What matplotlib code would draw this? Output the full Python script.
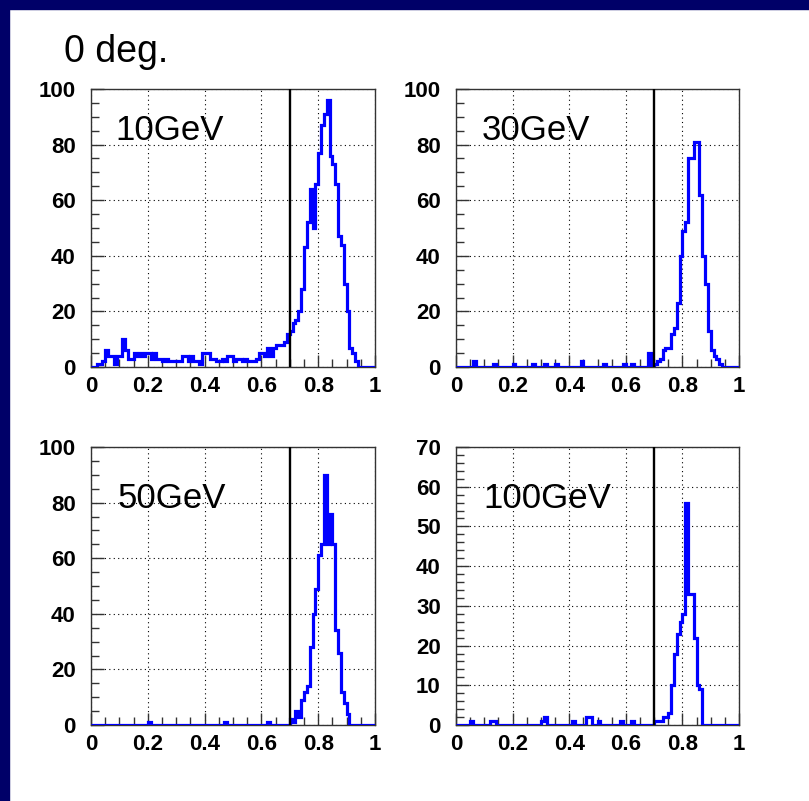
' Four energy panels of a ROOT-style histogram, 0 deg. '

import numpy as np
import matplotlib
matplotlib.use('Agg')
import matplotlib.pyplot as plt
from matplotlib.patches import Rectangle
from matplotlib.ticker import MultipleLocator, FormatStrFormatter

plt.rcParams['font.family'] = ['Liberation Sans', 'DejaVu Sans']

W, H = 809, 801
NAVY = '#000068'
CUT = 0.7

EDGES = np.linspace(0, 1, 101)

# counts per 0.01 bin
COUNTS_10 = [
    0, 0, 1, 1, 2, 6, 4, 4, 1, 4,
    4, 10, 6, 3, 3, 5, 4, 5, 4, 5,
    5, 3, 5, 3, 3, 2, 3, 2, 2, 2,
    2, 2, 4, 4, 2, 4, 2, 2, 1, 5,
    5, 5, 3, 3, 2, 2, 3, 2, 4, 4,
    2, 3, 3, 2, 3, 2, 2, 2, 3, 5,
    5, 4, 7, 4, 7, 8, 8, 8, 9, 12,
    13, 16, 17, 20, 28, 43, 52, 64, 50, 66,
    77, 87, 91, 96, 76, 73, 66, 47, 44, 30,
    20, 7, 5, 2, 0, 0, 0, 0, 0, 0,
]
COUNTS_30 = [
    0, 0, 0, 0, 0, 0, 2, 0, 0, 0,
    0, 0, 0, 1, 0, 0, 0, 0, 0, 0,
    1, 0, 0, 0, 0, 0, 0, 1, 0, 0,
    0, 1, 0, 0, 0, 1, 0, 0, 0, 0,
    0, 0, 0, 0, 2, 0, 0, 0, 0, 0,
    0, 0, 1, 0, 0, 0, 0, 0, 0, 1,
    0, 0, 1, 0, 0, 0, 0, 0, 5, 0,
    1, 2, 3, 6, 7, 7, 12, 14, 23, 40,
    49, 52, 75, 75, 81, 81, 62, 40, 30, 13,
    6, 4, 3, 1, 0, 0, 0, 0, 0, 0,
]
COUNTS_50 = [
    0, 0, 0, 0, 0, 0, 0, 0, 0, 0,
    0, 0, 0, 0, 0, 0, 0, 0, 0, 0,
    1, 0, 0, 0, 0, 0, 0, 0, 0, 0,
    0, 0, 0, 0, 0, 0, 0, 0, 0, 0,
    0, 0, 0, 0, 0, 0, 0, 1, 0, 0,
    0, 0, 0, 0, 0, 0, 0, 0, 0, 0,
    0, 0, 1, 0, 0, 0, 0, 0, 0, 0,
    2, 1, 5, 3, 9, 12, 14, 28, 40, 49,
    61, 65, 90, 65, 76, 65, 34, 26, 12, 8,
    4, 0, 0, 0, 0, 0, 0, 0, 0, 0,
]
COUNTS_100 = [
    0, 0, 0, 0, 0, 1, 0, 0, 0, 0,
    0, 0, 1, 1, 0, 0, 0, 0, 0, 0,
    0, 0, 0, 0, 0, 0, 0, 0, 0, 0,
    1, 2, 0, 0, 0, 0, 0, 0, 0, 0,
    0, 1, 0, 0, 0, 0, 2, 2, 0, 0,
    1, 0, 0, 0, 0, 0, 0, 0, 1, 0,
    0, 0, 1, 0, 0, 0, 0, 0, 0, 0,
    1, 1, 1, 2, 2, 3, 10, 18, 23, 26,
    28, 56, 33, 33, 22, 10, 9, 0, 0, 0,
    0, 0, 0, 0, 0, 0, 0, 0, 0, 0,
]

LABELS = ['10GeV', '30GeV', '50GeV', '100GeV']
YMAX = [100, 100, 100, 70]
YMAJOR = [20, 20, 20, 10]
YMINOR = [5, 5, 5, 2]
LABEL_POS = [(0.085, 81.7), (0.091, 81.7), (0.095, 78), (0.095, 54.7)]


def px_box(x0, y0, x1, y1):
    ' pixel box (top-left origin) to figure fraction rect '
    return [x0 / W, 1 - y1 / H, (x1 - x0) / W, (y1 - y0) / H]


def draw_panel(ax, counts, label, ymax, ymaj, ymin, pos):
    ax.stairs(counts, EDGES, color='#0000ff', linewidth=2.3, zorder=3)
    ax.axvline(CUT, color='black', linewidth=1.7, zorder=4)
    ax.set_xlim(0, 1)
    ax.set_ylim(0, ymax)
    ax.xaxis.set_major_locator(MultipleLocator(0.2))
    ax.xaxis.set_minor_locator(MultipleLocator(0.05))
    ax.yaxis.set_major_locator(MultipleLocator(ymaj))
    ax.yaxis.set_minor_locator(MultipleLocator(ymin))
    ax.xaxis.set_major_formatter(FormatStrFormatter('%g'))
    ax.grid(True, which='major', color='black', linestyle=(0, (1, 3)), linewidth=0.8)
    ax.tick_params(which='both', direction='in', top=False, right=False,
                   width=1, color='#333333')
    ax.tick_params(which='major', length=9, labelsize=16)
    ax.tick_params(which='minor', length=6)
    ax.tick_params(axis='x', which='major', pad=6.5)
    ax.tick_params(axis='y', which='major', pad=11)
    for t in ax.get_xticklabels() + ax.get_yticklabels():
        t.set_fontweight('bold')
    for s in ax.spines.values():
        s.set_color('#333333')
        s.set_linewidth(1)
    ax.text(pos[0], pos[1], label, fontsize=25, va='baseline', ha='left', zorder=5)


def main():
    fig = plt.figure(figsize=(W / 100, H / 100), dpi=100)
    fig.patches.append(Rectangle((0, 1 - 9 / H), 1, 9 / H, transform=fig.transFigure,
                                 color=NAVY, zorder=0))
    fig.patches.append(Rectangle((0, 0), 9 / W, 1, transform=fig.transFigure,
                                 color=NAVY, zorder=0))
    fig.text(64 / W, 1 - 62 / H, '0 deg.', fontsize=27, va='baseline', ha='left')

    boxes = [px_box(91, 89, 375, 367), px_box(456, 89, 739, 367),
             px_box(91, 447, 375, 725), px_box(456, 447, 739, 725)]
    all_counts = [COUNTS_10, COUNTS_30, COUNTS_50, COUNTS_100]
    for i, box in enumerate(boxes):
        ax = fig.add_axes(box)
        draw_panel(ax, all_counts[i], LABELS[i], YMAX[i], YMAJOR[i], YMINOR[i], LABEL_POS[i])

    fig.savefig('out.png', dpi=100)


if __name__ == '__main__':
    main()
